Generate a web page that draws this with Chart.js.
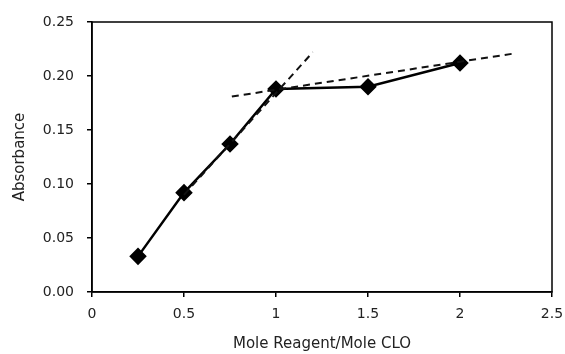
<!DOCTYPE html>
<html>
<head>
<meta charset="utf-8">
<script src="https://cdn.jsdelivr.net/npm/chart.js@4"></script>
<style>
  html, body { margin: 0; padding: 0; background: #fff; }
  #wrap { width: 565px; height: 354px; }
</style>
</head>
<body>
<div id="wrap"><canvas id="absChart"></canvas></div>
<script>
const moleRatio = [0.25, 0.5, 0.75, 1, 1.5, 2];
const absorbance = [0.033, 0.092, 0.137, 0.188, 0.19, 0.212];
const steepX = [0.5, 1.2];
const steepY = [0.09, 0.222];
const flatX = [0.76, 2.3];
const flatY = [0.181, 0.221];
const xTicks = [0, 0.5, 1, 1.5, 2, 2.5];
const yTicks = [0, 0.05, 0.1, 0.15, 0.2, 0.25];

function toPoints(xs, ys) {
    return xs.map(function (x, i) { return { x: x, y: ys[i] }; });
}

// full black frame round the plot area
const boxPlugin = {
    id: 'box',
    afterDatasetsDraw: function (chart) {
        const a = chart.chartArea;
        const ctx = chart.ctx;
        ctx.save();
        ctx.strokeStyle = '#000';
        ctx.lineWidth = 1.5;
        ctx.strokeRect(a.left, a.top, a.right - a.left, a.bottom - a.top);
        ctx.restore();
    }
};

const tickFont = { family: 'DejaVu Sans', size: 14 };
const titleFont = { family: 'DejaVu Sans', size: 15 };

new Chart(document.querySelector('#absChart'), {
    type: 'scatter',
    data: {
        datasets: [{
            data: toPoints(steepX, steepY),
            showLine: true,
            borderColor: '#111',
            borderWidth: 2,
            borderDash: [7, 5],
            pointRadius: 0
        }, {
            data: toPoints(flatX, flatY),
            showLine: true,
            borderColor: '#111',
            borderWidth: 2,
            borderDash: [7, 5],
            pointRadius: 0
        }, {
            data: toPoints(moleRatio, absorbance),
            showLine: true,
            borderColor: '#000',
            borderWidth: 2.5,
            pointStyle: 'rectRot',
            pointRadius: 7,
            pointBackgroundColor: '#000',
            pointBorderColor: '#000'
        }]
    },
    options: {
        responsive: true,
        maintainAspectRatio: false,
        animation: false,
        layout: { padding: { top: 22, right: 13, left: 0, bottom: 0 } },
        plugins: { legend: { display: false }, tooltip: { enabled: false } },
        scales: {
            x: {
                type: 'linear',
                min: 0,
                max: 2.5,
                afterBuildTicks: function (s) { s.ticks = xTicks.map(function (v) { return { value: v }; }); },
                grid: { drawOnChartArea: false, tickLength: 5, color: '#000', lineWidth: 1.5 },
                border: { color: '#000', width: 1.5 },
                ticks: { color: '#222', font: tickFont, padding: 9, maxRotation: 0, callback: function (v) { return String(v); } },
                title: { display: true, text: 'Mole Reagent/Mole CLO', color: '#222', font: titleFont, padding: { top: 2, bottom: 1 } },
                afterFit: function (s) { s.height = 62; s.paddingRight = 0; s.paddingLeft = 0; }
            },
            y: {
                min: 0,
                max: 0.25,
                afterBuildTicks: function (s) { s.ticks = yTicks.map(function (v) { return { value: v }; }); },
                grid: { drawOnChartArea: false, tickLength: 5, color: '#000', lineWidth: 1.5 },
                border: { color: '#000', width: 1.5 },
                ticks: { color: '#222', font: tickFont, padding: 13, callback: function (v) { return v.toFixed(2); } },
                title: { display: true, text: 'Absorbance', color: '#222', font: titleFont, padding: { top: 11, bottom: 4 } },
                afterFit: function (s) { s.width = 92; s.paddingTop = 0; s.paddingBottom = 0; }
            }
        }
    },
    plugins: [boxPlugin]
});
</script>
</body>
</html>
